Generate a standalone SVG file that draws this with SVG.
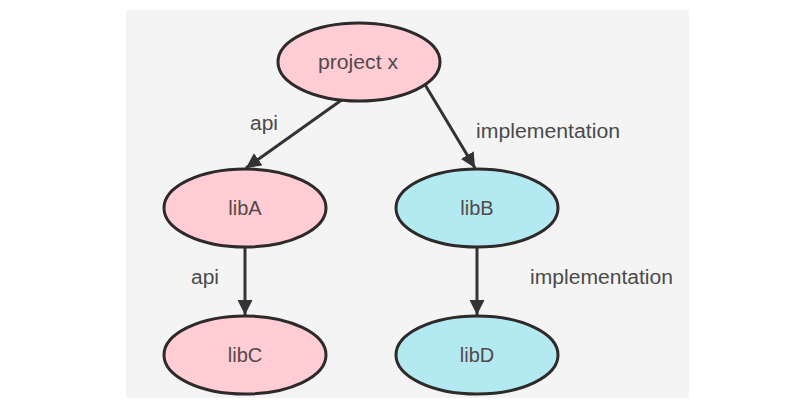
<svg xmlns="http://www.w3.org/2000/svg" width="801" height="417" viewBox="0 0 801 417">
<defs>
<marker id="arr" viewBox="0 0 10 10" refX="10" refY="5" markerWidth="5" markerHeight="5" markerUnits="strokeWidth" orient="auto">
<path d="M0,0 L10,5 L0,10 Z" fill="#333"/>
</marker>
<style>
.node ellipse{stroke:#2e2a2b;stroke-width:3}
.pink{fill:#ffcdd3}
.cyan{fill:#b3eaf1}
.nt{font-family:"Liberation Sans",Arial,sans-serif;font-size:20px;fill:#54484c;text-anchor:middle;dominant-baseline:central}
.lbl{font-family:"Liberation Sans",Arial,sans-serif;font-size:20px;fill:#4a4a4a}
.edge{stroke:#333;stroke-width:3;fill:none;marker-end:url(#arr)}
</style>
</defs>
<rect width="801" height="417" fill="#ffffff"/>
<rect x="126" y="10" width="563" height="388" fill="#f4f4f4"/>
<g id="connectors">
<line class="edge" x1="343" y1="99" x2="246" y2="168"/>
<line class="edge" x1="424" y1="83" x2="475" y2="168"/>
<line class="edge" x1="245" y1="246" x2="245" y2="315"/>
<line class="edge" x1="477" y1="246" x2="477" y2="315"/>
<text class="lbl" x="250" y="130" textLength="28" lengthAdjust="spacingAndGlyphs">api</text>
<text class="lbl" x="476" y="138" textLength="144" lengthAdjust="spacingAndGlyphs">implementation</text>
<text class="lbl" x="191" y="284" textLength="28" lengthAdjust="spacingAndGlyphs">api</text>
<text class="lbl" x="530" y="284" textLength="143" lengthAdjust="spacingAndGlyphs">implementation</text>
</g>
<g id="projectx" class="node"><ellipse class="pink" cx="359" cy="62" rx="81" ry="39"/><text class="nt" x="358" y="62" textLength="80" lengthAdjust="spacingAndGlyphs">project x</text></g>
<g id="libA" class="node"><ellipse class="pink" cx="245" cy="208" rx="81" ry="39"/><text class="nt" x="245" y="208">libA</text></g>
<g id="libB" class="node"><ellipse class="cyan" cx="477" cy="208" rx="81" ry="39"/><text class="nt" x="477" y="208">libB</text></g>
<g id="libC" class="node"><ellipse class="pink" cx="245" cy="355" rx="81" ry="39"/><text class="nt" x="245" y="355">libC</text></g>
<g id="libD" class="node"><ellipse class="cyan" cx="477" cy="355" rx="81" ry="39"/><text class="nt" x="477" y="355">libD</text></g>
</svg>
